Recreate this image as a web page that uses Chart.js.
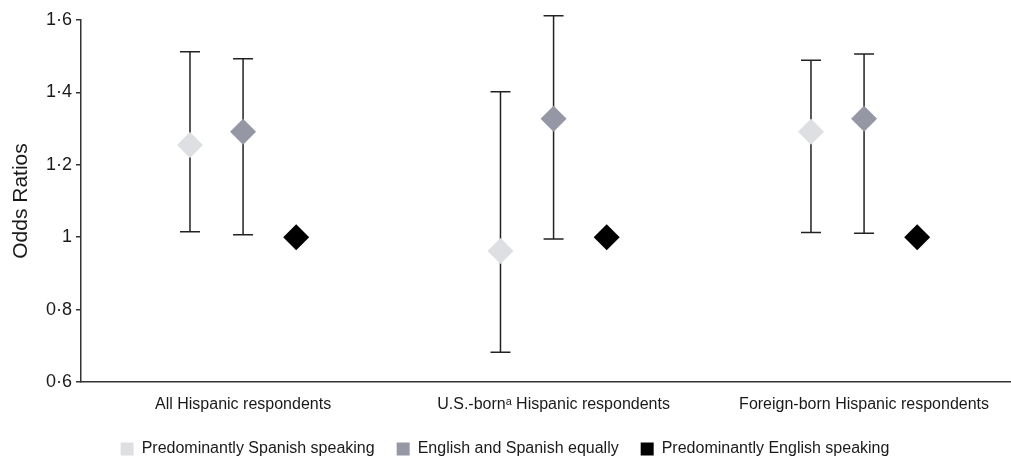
<!DOCTYPE html>
<html>
<head>
<meta charset="utf-8">
<script src="https://cdn.jsdelivr.net/npm/chart.js@4/dist/chart.umd.min.js"></script>
<style>
  html, body { margin: 0; padding: 0; background: #fff; overflow: hidden; }
  #wrap { width: 1011px; height: 457px; position: relative; }
</style>
</head>
<body>
<div id="wrap"><canvas id="c"></canvas></div>
<script>
// Odds ratios by language spoken at home, with 95% CIs, for three respondent groups.
const GROUPS = ["All Hispanic respondents", "U.S.-born\u1d43 Hispanic respondents", "Foreign-born Hispanic respondents"];
const SERIES = ["Predominantly Spanish speaking", "English and Spanish equally", "Predominantly English speaking"];

const spanishOR = [1.255, 0.962, 1.291];
const spanishLow = [1.015, 0.682, 1.013];
const spanishHigh = [1.512, 1.402, 1.489];

const equalOR = [1.291, 1.327, 1.327];
const equalLow = [1.007, 0.995, 1.011];
const equalHigh = [1.493, 1.612, 1.506];

const englishOR = [1, 1, 1]; // reference category, no interval

const Y_TICKS = [0.6, 0.8, 1, 1.2, 1.4, 1.6];

const COLORS = ["#dddfe2", "#9598a4", "#000000"];
const OFFSETS = [-0.171, 0, 0.171];
const TEXT = "#1a1a1a";
const FONT = "Liberation Sans, Arial, sans-serif";

const fmtTick = (v) => {
  const r = Math.round(v * 10) / 10;
  return Number.isInteger(r) ? String(r) : r.toFixed(1).replace(".", "\u00b7");
};

function makeSet(k, vals, low, high) {
  return {
    label: SERIES[k],
    data: vals.map((y, i) => ({ x: i + OFFSETS[k], y })),
    low, high,
    backgroundColor: COLORS[k],
    borderColor: COLORS[k],
    borderWidth: 0,
    pointStyle: "rectRot",
    pointRadius: 13,
    pointHoverRadius: 13,
  };
}

// whiskers drawn under the diamonds, positioned through the chart's scales
const errorBars = {
  id: "errorBars",
  beforeDatasetsDraw(chart) {
    const { ctx, scales: { x, y } } = chart;
    ctx.save();
    ctx.strokeStyle = "#222";
    ctx.lineWidth = 1.5;
    chart.data.datasets.forEach((ds) => {
      if (!ds.low) return;
      ds.data.forEach((p, i) => {
        const px = x.getPixelForValue(p.x);
        const top = y.getPixelForValue(ds.high[i]);
        const bot = y.getPixelForValue(ds.low[i]);
        ctx.beginPath();
        ctx.moveTo(px, top); ctx.lineTo(px, bot);
        ctx.moveTo(px - 10, top); ctx.lineTo(px + 10, top);
        ctx.moveTo(px - 10, bot); ctx.lineTo(px + 10, bot);
        ctx.stroke();
      });
    });
    ctx.restore();
  },
};

new Chart(document.getElementById("c"), {
  type: "scatter",
  data: {
    datasets: [
      makeSet(0, spanishOR, spanishLow, spanishHigh),
      makeSet(1, equalOR, equalLow, equalHigh),
      makeSet(2, englishOR, null, null),
    ],
  },
  plugins: [errorBars],
  options: {
    responsive: true, maintainAspectRatio: false, animation: false,
    layout: { autoPadding: false, padding: { top: 20, right: 1, bottom: -10, left: 0 } },
    plugins: {
      tooltip: { enabled: false },
      legend: {
        position: "bottom",
        labels: { color: TEXT, font: { family: FONT, size: 16 }, boxWidth: 13, boxHeight: 13, padding: 22 },
      },
    },
    scales: {
      x: {
        type: "linear", min: -0.522, max: 2.47,
        afterBuildTicks: (s) => { s.ticks = GROUPS.map((_, i) => ({ value: i })); },
        afterFit: (s) => { s.height = 37; },
        ticks: { color: TEXT, padding: 13, font: { family: FONT, size: 16 }, callback: (v) => GROUPS[v] },
        grid: { display: false, drawTicks: false },
        border: { display: true, color: "#333", width: 1.5 },
      },
      y: {
        min: 0.6, max: 1.6,
        afterBuildTicks: (s) => { s.ticks = Y_TICKS.map((v) => ({ value: v })); },
        afterFit: (s) => { s.width = 81; },
        ticks: { color: TEXT, padding: 4, font: { family: FONT, size: 18 }, callback: fmtTick },
        grid: { drawOnChartArea: false, drawTicks: true, tickLength: 5, color: "#333", lineWidth: 1.5 },
        border: { display: true, color: "#333", width: 1.5 },
        title: { display: true, text: "Odds Ratios", color: TEXT, padding: { top: 9, bottom: 0 }, font: { family: FONT, size: 21 } },
      },
    },
  },
});
</script>
</body>
</html>
